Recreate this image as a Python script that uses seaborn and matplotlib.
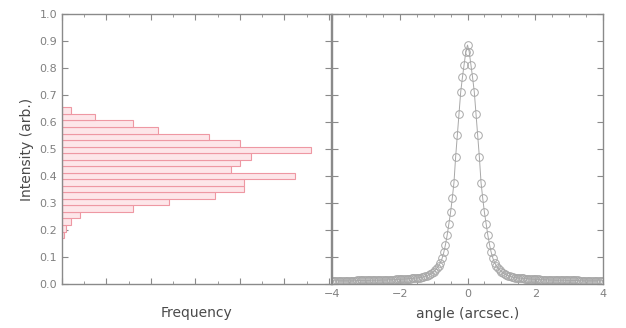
import numpy as np
import pandas as pd
import matplotlib
matplotlib.use("Agg")
import matplotlib.pyplot as plt
from matplotlib.ticker import MultipleLocator
import seaborn as sns

sns.set_style("ticks")
plt.rcParams["font.family"] = ["DejaVu Sans"]

# ---------- data ----------

# intensity histogram: bin edges (bottom -> top) and counts per bin
hist_edges = np.linspace(0.170, 0.654, 21)
hist_counts = [1, 2, 4, 8, 32, 48, 69, 82, 82, 105, 76, 80, 85, 112, 80, 66, 43, 32, 15, 4]

# radial profile, sampled every 0.05 arcsec from 0 to 4 (symmetric about 0)
profile_step = 0.05
profile_half = [
    0.885, 0.860, 0.812, 0.765, 0.712, 0.630, 0.552, 0.471, 0.375, 0.317,
    0.265, 0.222, 0.181, 0.146, 0.117, 0.095, 0.079, 0.068, 0.059, 0.052,
    0.046, 0.041, 0.037, 0.034, 0.031, 0.029, 0.027, 0.025, 0.024, 0.023,
    0.022, 0.022, 0.021, 0.021, 0.020, 0.020, 0.019, 0.019, 0.018, 0.018,
    0.017, 0.017, 0.017, 0.016, 0.016, 0.016, 0.016, 0.015, 0.015, 0.015,
    0.015, 0.015, 0.014, 0.014, 0.014, 0.014, 0.014, 0.014, 0.013, 0.013,
    0.013, 0.013, 0.013, 0.013, 0.013, 0.013, 0.012, 0.012, 0.012, 0.012,
    0.012, 0.012, 0.012, 0.012, 0.012, 0.012, 0.012, 0.012, 0.012, 0.012,
    0.012,
]

y_ticks = [0.0, 0.1, 0.2, 0.3, 0.4, 0.5, 0.6, 0.7, 0.8, 0.9, 1.0]
angle_ticks = [-4, -2, 0, 2, 4]

# ---------- build frames ----------

centers = (hist_edges[:-1] + hist_edges[1:]) / 2
hist_df = pd.DataFrame({"intensity": centers, "count": hist_counts})

n = len(profile_half) - 1
angle = np.round(np.arange(-n, n + 1) * profile_step, 2)
profile = profile_half[::-1] + profile_half[1:]
prof_df = pd.DataFrame({"angle": angle, "intensity": profile})

# ---------- figure ----------

TEXT = "#4a4a4a"
TICKTXT = "#808080"
SPINE = "#8a8a8a"

fig = plt.figure(figsize=(6.26, 3.28), dpi=100)
W, H = 626, 328
ax1 = fig.add_axes([62 / W, (H - 284) / H, (331 - 62) / W, 270 / H])
ax2 = fig.add_axes([332 / W, (H - 284) / H, (603 - 332) / W, 270 / H])

sns.histplot(data=hist_df, y="intensity", weights="count", bins=hist_edges.tolist(),
             color="#fde6e9", edgecolor="#ee98a3", linewidth=0.8, alpha=1.0, ax=ax1)
ax1.set_xlim(0, 121)
ax1.set_ylim(0, 1.0)
ax1.set_yticks(y_ticks)
ax1.set_yticklabels([f"{v:.1f}" for v in y_ticks])
ax1.xaxis.set_major_locator(MultipleLocator(20))
ax1.xaxis.set_minor_locator(MultipleLocator(10))
ax1.set_xticklabels([])
ax1.set_xlabel("Frequency", color=TEXT, fontsize=10, labelpad=12)
ax1.set_ylabel("Intensity (arb.)", color=TEXT, fontsize=10, labelpad=4)

sns.lineplot(data=prof_df, x="angle", y="intensity", color="#a8a8a8", linewidth=0.7,
             marker="o", markersize=5.5, markerfacecolor="none",
             markeredgecolor="#a8a8a8", markeredgewidth=0.7, ax=ax2)
ax2.set_xlim(-4, 4)
ax2.set_ylim(0, 1.0)
ax2.set_xticks(angle_ticks)
ax2.xaxis.set_minor_locator(MultipleLocator(0.5))
ax2.set_yticks(y_ticks)
ax2.set_yticklabels([])
ax2.set_ylabel("")
ax2.set_xlabel("angle (arcsec.)", color=TEXT, fontsize=10, labelpad=6)

for ax in (ax1, ax2):
    for sp in ax.spines.values():
        sp.set_visible(True)
        sp.set_color(SPINE)
        sp.set_linewidth(1.0)
    ax.tick_params(which="both", direction="in", top=True, right=True,
                   color=SPINE, labelcolor=TICKTXT, labelsize=8)
    ax.tick_params(which="major", length=4)
    ax.tick_params(which="minor", length=2)

fig.savefig("out.png", dpi=100)
